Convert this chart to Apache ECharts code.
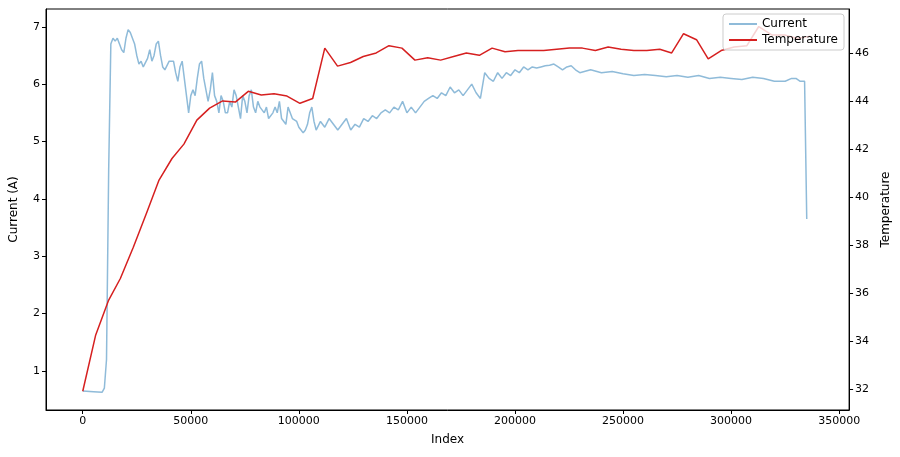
<!DOCTYPE html>
<html><head><meta charset="utf-8">
<script src="https://cdn.jsdelivr.net/npm/echarts@6/dist/echarts.min.js"></script>
<style>body{margin:0}#c{width:900px;height:457px}</style></head>
<body><div id="c"></div>
<script>
const currentIndex=[0,5000,9000,10000,11000,12000,13000,14000,15000,16000,17000,18000,19000,20000,21000,22000,23000,24000,25000,26000,27000,28000,30000,31000,32000,33000,34000,35000,36000,37000,38000,40000,42000,43000,44000,45000,46000,47000,48000,49000,50000,51000,52000,53000,54000,55000,56000,57000,58000,59000,60000,61000,62000,63000,64000,65000,66000,67000,68000,69000,70000,71000,72000,73000,74000,75000,76000,77000,78000,79000,80000,81000,82000,84000,85000,86000,88000,89000,90000,91000,92000,94000,95000,96000,97000,99000,100000,101000,102000,103000,104000,105000,106000,107000,108000,110000,112000,114000,116000,118000,120000,122000,124000,126000,128000,130000,132000,134000,136000,138000,140000,142000,144000,146000,148000,150000,152000,154000,156000,158000,160000,162000,164000,166000,168000,170000,172000,174000,176000,178000,180000,182000,184000,186000,188000,190000,192000,194000,196000,198000,200000,202000,204000,206000,208000,210000,212000,214000,216000,218000,220000,222000,224000,226000,228000,230000,235000,240000,245000,250000,255000,260000,265000,270000,275000,280000,285000,290000,295000,300000,305000,310000,315000,320000,325000,328000,330000,332000,334000,335000];
const currentValues=[0.65,0.64,0.63,0.7,1.2,4.5,6.7,6.8,6.75,6.8,6.7,6.6,6.55,6.8,6.95,6.9,6.8,6.7,6.5,6.35,6.4,6.3,6.45,6.6,6.4,6.5,6.7,6.75,6.5,6.3,6.25,6.4,6.4,6.2,6.05,6.3,6.4,6.1,5.8,5.5,5.8,5.9,5.8,6.1,6.35,6.4,6.1,5.9,5.7,5.9,6.2,5.8,5.7,5.5,5.8,5.7,5.5,5.5,5.7,5.6,5.9,5.8,5.6,5.4,5.8,5.7,5.5,5.8,5.9,5.6,5.5,5.7,5.6,5.5,5.6,5.4,5.5,5.6,5.5,5.7,5.4,5.3,5.6,5.5,5.4,5.35,5.25,5.2,5.15,5.2,5.3,5.5,5.6,5.35,5.2,5.35,5.25,5.4,5.3,5.2,5.3,5.4,5.2,5.3,5.25,5.4,5.35,5.45,5.4,5.5,5.55,5.5,5.6,5.55,5.7,5.5,5.6,5.5,5.6,5.7,5.75,5.8,5.75,5.85,5.8,5.95,5.85,5.9,5.8,5.9,6.0,5.85,5.75,6.2,6.1,6.05,6.2,6.1,6.2,6.15,6.25,6.2,6.3,6.25,6.3,6.28,6.3,6.32,6.33,6.35,6.3,6.25,6.3,6.32,6.25,6.2,6.25,6.2,6.22,6.18,6.15,6.17,6.15,6.13,6.15,6.12,6.15,6.1,6.12,6.1,6.08,6.12,6.1,6.05,6.05,6.1,6.1,6.05,6.05,3.65];
const tempIndex=[0,6000,12000,17400,23400,29400,35300,41300,46800,52800,58700,64700,70600,76600,82600,88500,94500,100500,106400,112000,117900,123900,129800,135800,141700,147700,153700,159600,165600,171600,177500,183500,189400,195400,201400,207300,213300,219300,225200,231200,237200,243100,249100,255000,261000,267000,272500,278000,284000,289400,295400,301400,307300,312800,318800,324800,330700,336700];
const tempValues=[31.9,34.25,35.7,36.6,37.9,39.3,40.7,41.6,42.2,43.2,43.7,44.0,43.95,44.4,44.25,44.3,44.2,43.9,44.1,46.2,45.45,45.6,45.85,46.0,46.3,46.2,45.7,45.8,45.7,45.85,46.0,45.9,46.2,46.05,46.1,46.1,46.1,46.15,46.2,46.2,46.1,46.25,46.15,46.1,46.1,46.15,46.0,46.8,46.55,45.75,46.1,46.25,46.3,47.1,46.75,46.75,46.6,46.7];
const xTicks=[0,50000,100000,150000,200000,250000,300000,350000];
const leftTicks=[1,2,3,4,5,6,7];
const rightTicks=[32,34,36,38,40,42,44,46];

const zip=(a,b)=>a.map((v,i)=>[v,b[i]]);
const font={fontFamily:'DejaVu Sans',fontSize:11,color:'#000',formatter:v=>String(v),margin:6};
const axLine={show:true,onZero:false,lineStyle:{color:'#000',width:1}};
const tick={show:true,inside:false,length:4,lineStyle:{color:'#000'}};
const chart=echarts.init(document.getElementById('c'));
chart.setOption({
  animation:false,
  grid:{left:42,right:48,top:9,bottom:47,show:true,borderColor:'#000',borderWidth:1},
  legend:{right:56,top:14,orient:'vertical',itemWidth:28,itemHeight:2,itemGap:4,z:10,
    backgroundColor:'rgba(255,255,255,0.8)',borderColor:'#ccc',borderWidth:1,borderRadius:3,padding:[4,6],
    textStyle:{fontFamily:'DejaVu Sans',fontSize:12,color:'#000'},
    data:[{name:'Current',icon:'rect'},{name:'Temperature',icon:'rect'}]},
  xAxis:{type:'value',min:-17000,max:354600,name:'Index',nameLocation:'middle',nameGap:24,
    nameTextStyle:{fontFamily:'DejaVu Sans',fontSize:12,color:'#000'},
    axisLine:axLine,splitLine:{show:false},
    axisTick:Object.assign({customValues:xTicks},tick),
    axisLabel:Object.assign({customValues:xTicks},font)},
  yAxis:[
    {type:'value',min:0.32,max:7.31,name:'Current (A)',nameLocation:'middle',nameGap:26,
     nameTextStyle:{fontFamily:'DejaVu Sans',fontSize:12,color:'#000'},
     axisLine:axLine,splitLine:{show:false},
     axisTick:Object.assign({customValues:leftTicks},tick),
     axisLabel:Object.assign({customValues:leftTicks},font)},
    {type:'value',min:31.12,max:47.83,name:'Temperature',nameLocation:'middle',nameGap:30,
     nameTextStyle:{fontFamily:'DejaVu Sans',fontSize:12,color:'#000'},
     axisLine:axLine,splitLine:{show:false},
     axisTick:Object.assign({customValues:rightTicks},tick),
     axisLabel:Object.assign({customValues:rightTicks},font)}
  ],
  series:[
    {name:'Current',type:'line',yAxisIndex:0,showSymbol:false,data:zip(currentIndex,currentValues),
     lineStyle:{color:'rgba(31,119,180,0.5)',width:1.5},itemStyle:{color:'rgba(31,119,180,0.5)'}},
    {name:'Temperature',type:'line',yAxisIndex:1,showSymbol:false,data:zip(tempIndex,tempValues),
     lineStyle:{color:'#d62020',width:1.5},itemStyle:{color:'#d62020'}}
  ]
});
</script></body></html>
